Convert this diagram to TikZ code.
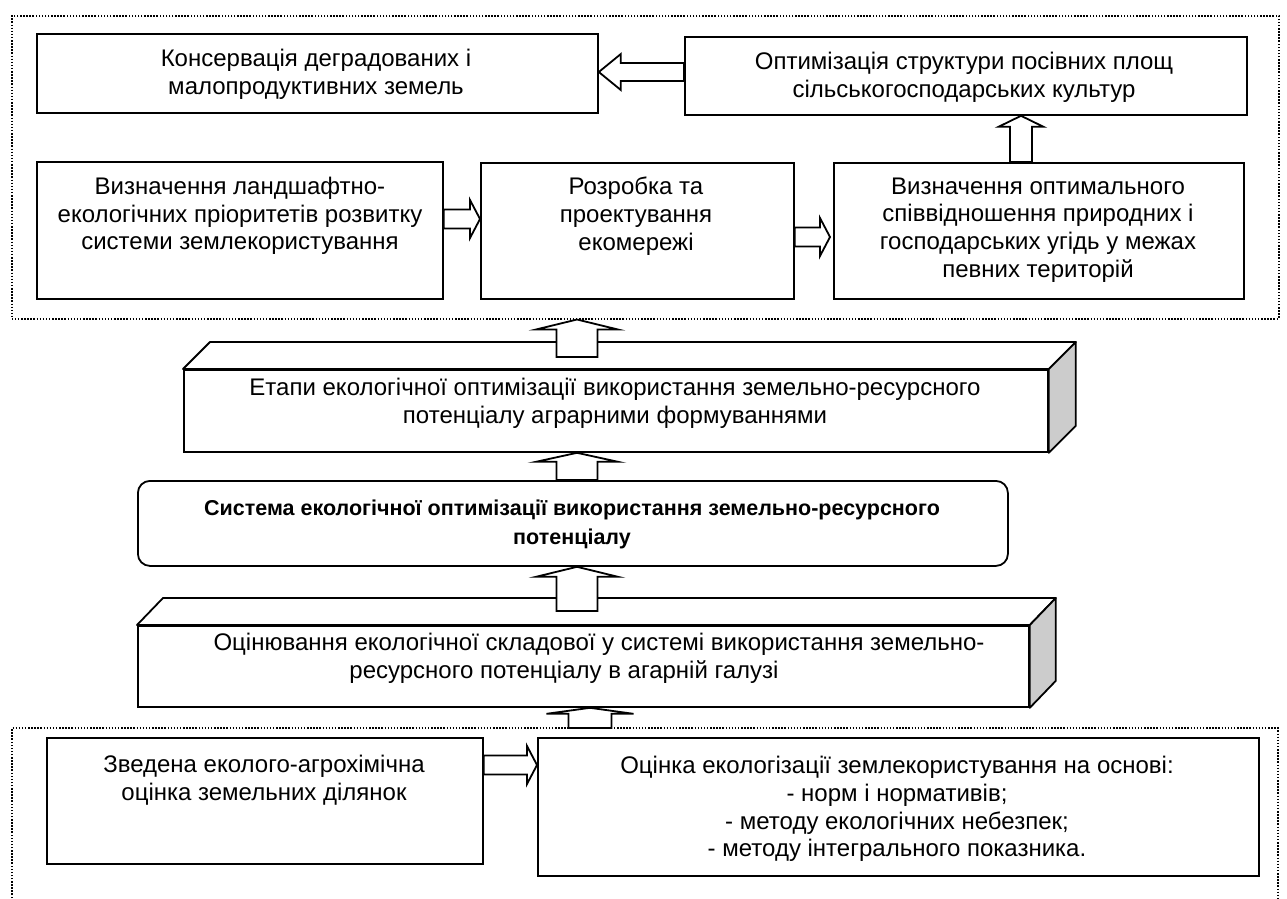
\documentclass[tikz,border=0pt]{standalone}
\usepackage{fontspec}
\setmainfont{Liberation Sans}
\usetikzlibrary{calc}
\tikzset{
 x=1pt,y=1pt,
 box/.style={draw, line width=1.8pt, inner sep=0pt, anchor=north west},
 txt/.style={align=center, font=\fontsize{24}{27.7}\selectfont, inner sep=0pt},
 dotbox/.style={line width=1.5pt, dash pattern=on 1.5pt off 1.6pt},
 barr/.style={draw, fill=white, line width=1.8pt, line join=miter},
 sideface/.style={draw, fill=black!20, line width=1.8pt, line join=round},
 topface/.style={draw, fill=white, line width=1.8pt, line join=round}
}
\newcommand\blockarr[5]{%
 \path (#1) coordinate (ba-s) (#2) coordinate (ba-t);
 \path ($(ba-t)!#5!(ba-s)$) coordinate (ba-b);
 \draw[barr] ($(ba-s)!#3!90:(ba-t)$) -- ($(ba-b)!#3!-90:(ba-s)$) -- ($(ba-b)!#4!-90:(ba-s)$) -- (ba-t) -- ($(ba-b)!#4!90:(ba-s)$) -- ($(ba-b)!#3!90:(ba-s)$) -- ($(ba-s)!#3!-90:(ba-t)$) -- cycle;}
\begin{document}
\begin{tikzpicture}
\useasboundingbox (0,0) rectangle (1287,-898);
% top dotted region
\node[dotbox, draw, inner sep=0pt, anchor=north west, minimum width=1267pt, minimum height=303pt] (topreg) at (11,-15) {};
\node[box, minimum width=561pt, minimum height=79pt] (b1) at (36,-33) {};
\node[box, minimum width=562pt, minimum height=78pt] (b2) at (684,-36) {};
\node[box, minimum width=406pt, minimum height=137pt] (b3) at (36,-161) {};
\node[box, minimum width=313pt, minimum height=136pt] (b4) at (480,-162) {};
\node[box, minimum width=410pt, minimum height=136pt] (b5) at (833,-162) {};
\node[txt] (t1) at (316,-74) {Консервація деградованих і\\малопродуктивних земель};
\node[txt] (t2) at (964,-77) {Оптимізація структури посівних площ\\сільськогосподарських культур};
\node[txt] (t3) at (240,-216) {Визначення ландшафтно-\\екологічних пріоритетів розвитку\\системи землекористування};
\node[txt] (t4) at (636,-216) {Розробка та\\проектування\\екомережі};
\node[txt] (t5) at (1038,-230) {Визначення оптимального\\співвідношення природних і\\господарських угідь у межах\\певних територій};
% 3D box 1
\node[box, fill=white, minimum width=864pt, minimum height=82pt] (s1) at (183,-369) {};
\draw[topface] (s1.north west) -- ++(27,27) -- ([shift={(27,27)}]s1.north east) -- (s1.north east) -- cycle;
\draw[sideface] (s1.north east) -- ([shift={(27,27)}]s1.north east) -- ([shift={(27,27)}]s1.south east) -- (s1.south east) -- cycle;
\node[txt] (t6) at (615,-403) {Етапи екологічної оптимізації використання земельно-ресурсного\\потенціалу аграрними формуваннями};
% rounded box
\node[box, rounded corners=12pt, minimum width=870pt, minimum height=85pt] (r) at (137,-480) {};
\node[txt, font=\fontsize{21.5}{29}\selectfont\bfseries] (t7) at (572,-524) {Система екологічної оптимізації використання земельно-ресурсного\\потенціалу};
% 3D box 2
\node[box, fill=white, minimum width=891pt, minimum height=81pt] (s2) at (137,-625) {};
\draw[topface] (s2.north west) -- ++(26,27) -- ([shift={(26,27)}]s2.north east) -- (s2.north east) -- cycle;
\draw[sideface] (s2.north east) -- ([shift={(26,27)}]s2.north east) -- ([shift={(26,27)}]s2.south east) -- (s2.south east) -- cycle;
\node[txt] (t8) at (582,-658) {\hspace*{34pt}Оцінювання екологічної складової у системі використання земельно-\\ресурсного потенціалу в агарній галузі\hspace*{36pt}};
% bottom dotted region
\coordinate (d1) at (12,-898);
\coordinate (d2) at (12,-728);
\coordinate (d3) at (1278,-728);
\coordinate (d4) at (1278,-898);
\draw[dotbox] (d1) -- (d2) -- (d3) -- (d4);
\node[box, minimum width=436pt, minimum height=126pt] (c1) at (46,-737) {};
\node[box, minimum width=721pt, minimum height=138pt] (c2) at (537,-737) {};
\node[txt] (t9) at (264,-780) {Зведена еколого-агрохімічна\\оцінка земельних ділянок};
\node[txt] (t10) at (897,-809) {Оцінка екологізації землекористування на основі:\\- норм і нормативів;\\- методу екологічних небезпек;\\- методу інтегрального показника.};
% block arrows
\blockarr{b2.west |- 0,-72}{b1.east |- 0,-72}{9pt}{18pt}{22pt}
\blockarr{b5.north -| 1021,0}{b2.south -| 1021,0}{11pt}{22.5pt}{11pt}
\blockarr{b3.east |- 0,-219}{b4.west |- 0,-219}{9.5pt}{19pt}{10pt}
\blockarr{b4.east |- 0,-237}{830,-237}{9.5pt}{19pt}{10pt}
\blockarr{577,-357}{topreg.south -| 577,0}{20.5pt}{41pt}{10pt}
\blockarr{r.north -| 577,0}{s1.south -| 577,0}{20.5pt}{41pt}{9pt}
\blockarr{577,-611}{r.south -| 577,0}{20.5pt}{41pt}{10pt}
\blockarr{d3 -| 590,0}{s2.south -| 590,0}{21.5pt}{43.5pt}{6pt}
\blockarr{c1.east |- 0,-765}{c2.west |- 0,-765}{9.5pt}{19pt}{10pt}
\end{tikzpicture}
\end{document}
